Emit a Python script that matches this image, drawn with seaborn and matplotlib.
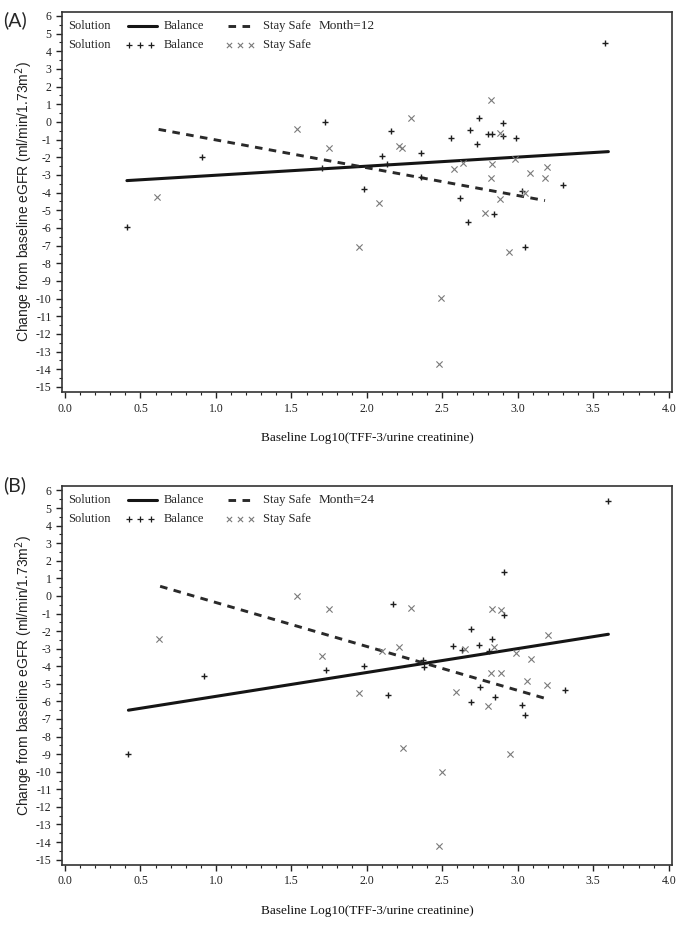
import numpy as np
import pandas as pd
import matplotlib
matplotlib.use("Agg")
import matplotlib.pyplot as plt
import seaborn as sns
from matplotlib.ticker import MultipleLocator, FormatStrFormatter

# Month 12 data (panel A)
a_bal_x = [0.41, 0.91, 1.70, 1.72, 1.98, 2.10, 2.13, 2.16, 2.36, 2.36, 2.56, 2.62, 2.67, 2.68,
           2.73, 2.74, 2.80, 2.83, 2.84, 2.90, 2.90, 2.99, 3.03, 3.05, 3.30, 3.58]
a_bal_y = [-5.92, -2.0, -2.6, 0.0, -3.77, -1.94, -2.40, -0.51, -1.74, -3.09, -0.92, -4.32, -5.66, -0.43,
           -1.26, 0.21, -0.68, -0.68, -5.21, -0.08, -0.81, -0.91, -3.89, -7.1, -3.55, 4.45]
a_ss_x = [0.61, 1.54, 1.75, 1.95, 2.08, 2.21, 2.23, 2.29, 2.48, 2.49, 2.58, 2.64, 2.78, 2.82,
          2.82, 2.83, 2.88, 2.88, 2.94, 2.98, 3.05, 3.08, 3.18, 3.19]
a_ss_y = [-4.23, -0.42, -1.49, -7.1, -4.57, -1.34, -1.45, 0.21, -13.7, -9.95, -2.68, -2.34, -5.15, 1.25,
          -3.17, -2.38, -0.60, -4.38, -7.35, -2.08, -4.04, -2.87, -3.17, -2.53]
a_fit_bal_x = [0.41, 3.60]
a_fit_bal_y = [-3.32, -1.68]
a_fit_ss_x = [0.62, 3.18]
a_fit_ss_y = [-0.42, -4.45]

# Month 24 data (panel B)
b_bal_x = [0.42, 0.92, 1.73, 1.98, 2.14, 2.17, 2.37, 2.38, 2.57, 2.63, 2.69, 2.69, 2.74, 2.75,
           2.81, 2.83, 2.85, 2.91, 2.91, 3.03, 3.05, 3.31, 3.60]
b_bal_y = [-9.02, -4.55, -4.23, -4.0, -5.62, -0.46, -3.66, -4.04, -2.87, -3.06, -1.88, -6.02, -2.81, -5.19,
           -3.11, -2.43, -5.74, 1.37, -1.06, -6.23, -6.78, -5.33, 5.38]
b_ss_x = [0.62, 1.54, 1.70, 1.75, 1.95, 2.10, 2.21, 2.24, 2.29, 2.48, 2.50, 2.59, 2.65, 2.80,
          2.82, 2.83, 2.84, 2.89, 2.89, 2.95, 2.99, 3.06, 3.09, 3.19, 3.20]
b_ss_y = [-2.43, -0.02, -3.43, -0.72, -5.55, -3.15, -2.88, -8.64, -0.66, -14.2, -10.03, -5.46, -3.02, -6.27,
          -4.36, -0.74, -2.92, -0.78, -4.40, -9.02, -3.24, -4.85, -3.61, -5.08, -2.24]
b_fit_bal_x = [0.42, 3.60]
b_fit_bal_y = [-6.5, -2.18]
b_fit_ss_x = [0.63, 3.19]
b_fit_ss_y = [0.55, -5.85]

sns.set_style("ticks")
plt.rcParams['font.family'] = ['Liberation Serif', 'DejaVu Serif']
plt.rcParams['axes.unicode_minus'] = False

fig = plt.figure(figsize=(6.89, 9.25), dpi=100)
ax_a = fig.add_axes([0.090, 0.576, 0.885, 0.4115])
ax_b = fig.add_axes([0.090, 0.065, 0.885, 0.4095])

DASH = (0, (2.6, 2.2))


def draw_panel(ax, bal_x, bal_y, ss_x, ss_y, fbx, fby, fsx, fsy, month):
    sns.lineplot(x=fbx, y=fby, ax=ax, color='#151515', linewidth=2.2, zorder=3)
    sns.lineplot(x=fsx, y=fsy, ax=ax, color='#2a2a2a', linewidth=2.1, linestyle=DASH, zorder=3)
    sns.scatterplot(x=bal_x, y=bal_y, ax=ax, marker='+', s=20, color='#1e1e1e', linewidth=1.0, zorder=4)
    sns.scatterplot(x=ss_x, y=ss_y, ax=ax, marker='x', s=20, color='#7a7a7a', linewidth=0.8, zorder=4)

    ax.set_xlim(-0.02, 4.02)
    ax.set_ylim(-15.3, 6.25)
    ax.xaxis.set_major_locator(MultipleLocator(0.5))
    ax.xaxis.set_minor_locator(MultipleLocator(0.1))
    ax.xaxis.set_major_formatter(FormatStrFormatter('%.1f'))
    ax.yaxis.set_major_locator(MultipleLocator(1))
    ax.yaxis.set_minor_locator(MultipleLocator(0.5))
    ax.tick_params(which='major', direction='out', length=4, width=1.0, labelsize=8.5, colors='#222222')
    ax.tick_params(which='minor', direction='out', length=2, width=0.8, colors='#222222')
    for sp in ax.spines.values():
        sp.set_color('#333333')
        sp.set_linewidth(1.2)

    ax.set_xlabel('Baseline Log10(TFF-3/urine creatinine)', fontsize=9.5, color='#111111')
    ax.xaxis.set_label_coords(0.5, -0.105)
    ax.set_ylabel('Change from baseline eGFR (ml/min/1.73m$^2$)', fontsize=10,
                  family=['Liberation Sans', 'DejaVu Sans'], color='#222222')
    ax.yaxis.set_label_coords(-0.045, 0.5)

    # legend block drawn in axes coordinates
    tr = ax.transAxes
    r1, r2 = 0.962, 0.912
    fs = 9
    ax.text(0.010, r1, 'Solution', transform=tr, fontsize=fs, va='center')
    ax.text(0.010, r2, 'Solution', transform=tr, fontsize=fs, va='center')
    ax.plot([0.108, 0.156], [r1, r1], transform=tr, color='#151515', linewidth=2.2)
    ax.text(0.166, r1, 'Balance', transform=tr, fontsize=fs, va='center')
    ax.plot([0.272, 0.316], [r1, r1], transform=tr, color='#2a2a2a', linewidth=2.1, linestyle=DASH)
    ax.text(0.330, r1, 'Stay Safe', transform=tr, fontsize=fs, va='center')
    ax.text(0.420, r1, f'Month={month}', transform=tr, fontsize=fs + 0.5, va='center')
    ax.scatter([0.110, 0.128, 0.146], [r2] * 3, transform=tr, marker='+', s=16, color='#1e1e1e', linewidth=0.9)
    ax.text(0.166, r2, 'Balance', transform=tr, fontsize=fs, va='center')
    ax.scatter([0.274, 0.292, 0.310], [r2] * 3, transform=tr, marker='x', s=14, color='#7a7a7a', linewidth=0.8)
    ax.text(0.330, r2, 'Stay Safe', transform=tr, fontsize=fs, va='center')


draw_panel(ax_a, a_bal_x, a_bal_y, a_ss_x, a_ss_y,
           a_fit_bal_x, a_fit_bal_y, a_fit_ss_x, a_fit_ss_y, 12)
draw_panel(ax_b, b_bal_x, b_bal_y, b_ss_x, b_ss_y,
           b_fit_bal_x, b_fit_bal_y, b_fit_ss_x, b_fit_ss_y, 24)

fig.text(0.004, 1 - 20 / 925, '(A)', fontsize=14, va='center', family=['Lato', 'DejaVu Sans'])
fig.text(0.004, 1 - 485 / 925, '(B)', fontsize=14, va='center', family=['Lato', 'DejaVu Sans'])

fig.savefig('out.png', dpi=100)
